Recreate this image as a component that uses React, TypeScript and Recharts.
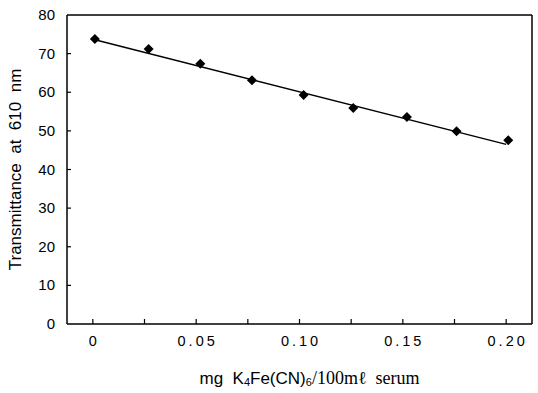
import React from 'react';
import {
  ComposedChart, Line, Scatter, XAxis, YAxis, ReferenceLine,
} from 'recharts';

// ── data ─────────────────────────────────────────────────────────────────────
const concentrations = [0.001, 0.027, 0.052, 0.077, 0.102, 0.126, 0.152, 0.176, 0.201];
const transmittance = [73.8, 71.2, 67.4, 63.1, 59.3, 55.9, 53.6, 49.9, 47.6];
const fitX = [0.001, 0.2];
const fitY = [73.6, 46.5];

const xTicks = [0, 0.025, 0.05, 0.075, 0.1, 0.125, 0.15, 0.175, 0.2];
const xTickLabels = ['0', '', '0.05', '', '0.10', '', '0.15', '', '0.20'];
const yTicks = [0, 10, 20, 30, 40, 50, 60, 70, 80];

const points = concentrations.map((x, i) => ({ x, y: transmittance[i] }));
const fitLine = fitX.map((x, i) => ({ x, fit: fitY[i] }));

const FONT = '"Liberation Sans", Arial, sans-serif';
const X_MIN = -0.0125;
const X_MAX = 0.2125;

const Diamond = (props: any) => {
  const { cx, cy } = props;
  if (cx == null || cy == null) return null;
  const r = 5;
  return (
    <polygon
      points={`${cx},${cy - r} ${cx + r},${cy} ${cx},${cy + r} ${cx - r},${cy}`}
      fill="#000"
    />
  );
};

const XTick = (props: any) => {
  const { x, y, index } = props;
  const label = xTickLabels[index] ?? '';
  return (
    <g>
      <line x1={x} y1={y} x2={x} y2={y - 5} stroke="#000" strokeWidth={1.2} />
      {label && (
        <text x={x + 1.5} y={y + 22} textAnchor="middle" fontSize={14.5}
          letterSpacing={3} fontFamily={FONT} fill="#000">
          {label}
        </text>
      )}
    </g>
  );
};

const YTick = (props: any) => {
  const { x, y, payload } = props;
  return (
    <g>
      {payload.value !== 80 && payload.value !== 0 && (
        <line x1={x} y1={y} x2={x + 4} y2={y} stroke="#000" strokeWidth={1.2} />
      )}
      <text x={x - 12} y={y + 5} textAnchor="end" fontSize={15}
        fontFamily={FONT} fill="#000">
        {payload.value}
      </text>
    </g>
  );
};

const XLabel = (props: any) => {
  const { viewBox } = props;
  const cx = viewBox.x + viewBox.width / 2 + 10;
  return (
    <text x={cx} y={viewBox.y + 60} textAnchor="middle" fontSize={17} fill="#000"
      fontFamily={FONT} style={{ whiteSpace: 'pre' }}>
      <tspan>{'mg  K'}</tspan>
      <tspan fontSize={11} dy={2}>4</tspan>
      <tspan dy={-2}>Fe(CN)</tspan>
      <tspan fontSize={11} dy={2}>6</tspan>
      <tspan dy={-2} fontFamily='"Liberation Serif", serif' fontSize={18}>{'/100mℓ  serum'}</tspan>
    </text>
  );
};

const YLabel = (props: any) => {
  const { viewBox } = props;
  const cx = viewBox.x + 21;
  const cy = viewBox.y + viewBox.height / 2;
  return (
    <text x={cx} y={cy} transform={`rotate(-90, ${cx}, ${cy})`} textAnchor="middle"
      fontSize={17} fill="#000" fontFamily={FONT} style={{ whiteSpace: 'pre' }}>
      Transmittance  at  610  nm
    </text>
  );
};

export default function App() {
  return (
    <div style={{ position: 'absolute', left: 0, top: 0, width: 538, height: 393, background: '#fff' }}>
      <ComposedChart
        width={538}
        height={393}
        margin={{ top: 15, right: 6, bottom: 0, left: 0 }}
      >
        <XAxis
          dataKey="x"
          type="number"
          domain={[X_MIN, X_MAX]}
          ticks={xTicks}
          allowDataOverflow
          height={69}
          tickSize={0}
          tickMargin={0}
          tickLine={false}
          axisLine={{ stroke: '#000', strokeWidth: 1.5 }}
          tick={<XTick />}
          interval={0}
          label={<XLabel />}
        />
        <YAxis
          type="number"
          domain={[0, 80]}
          ticks={yTicks}
          width={67}
          tickSize={0}
          tickMargin={0}
          tickLine={false}
          axisLine={{ stroke: '#000', strokeWidth: 1.5 }}
          tick={<YTick />}
          interval={0}
          label={<YLabel />}
        />
        <ReferenceLine y={80} stroke="#000" strokeWidth={1.5} />
        <ReferenceLine x={X_MAX} stroke="#000" strokeWidth={1.5} />
        <Line
          data={fitLine}
          dataKey="fit"
          type="linear"
          stroke="#000"
          strokeWidth={1.5}
          dot={false}
          activeDot={false}
          isAnimationActive={false}
        />
        <Scatter
          data={points}
          dataKey="y"
          shape={<Diamond />}
          isAnimationActive={false}
        />
      </ComposedChart>
    </div>
  );
}
